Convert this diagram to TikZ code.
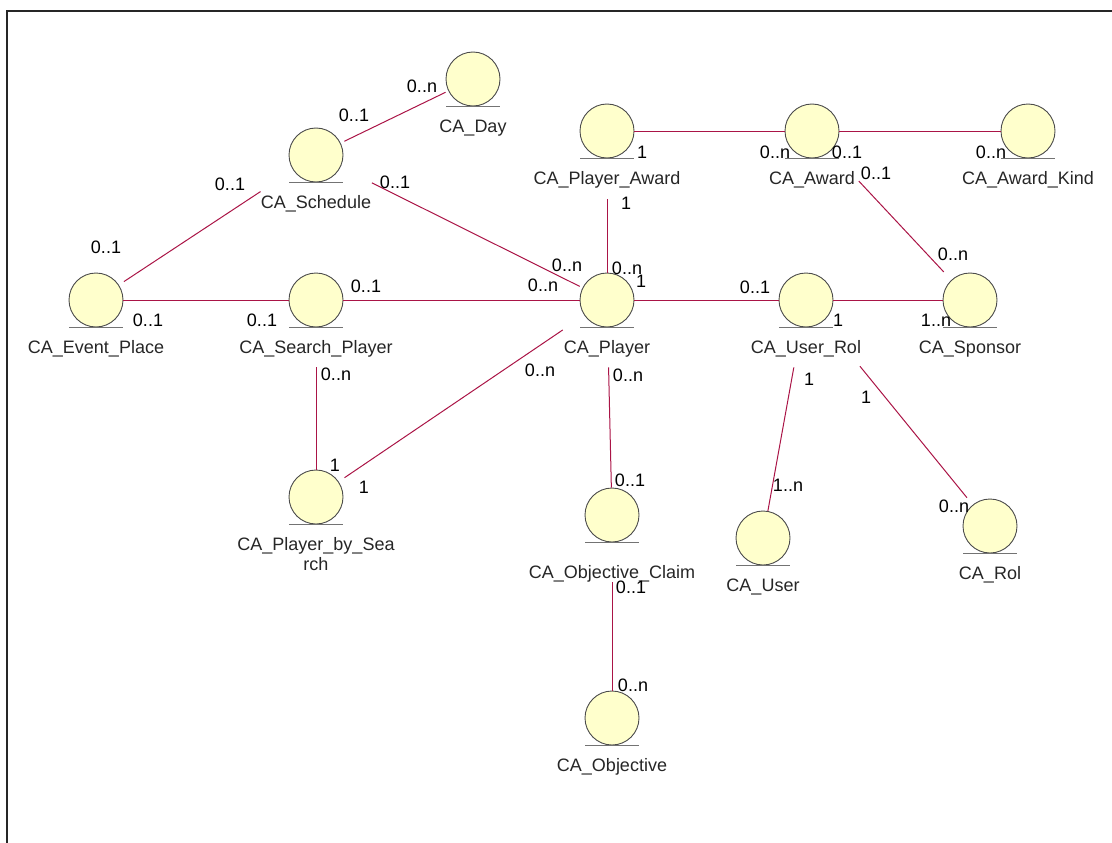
\documentclass[tikz,border=0pt]{standalone}
\usepackage{fontspec}
\setmainfont{Liberation Sans}
\usepackage{tikz}
\usetikzlibrary{positioning}
\usepackage{xcolor}
\definecolor{entityfill}{RGB}{255,255,204}
\definecolor{assoccolor}{RGB}{170,20,70}
\tikzstyle{iconbase} = [draw=black!55, line width=1.2pt]
\tikzstyle{entity} = [circle, minimum size=54pt, inner sep=0pt, draw=black!70, line width=0.9pt, fill=entityfill, append after command={([xshift=-27pt]\tikzlastnode.south) edge[iconbase] ([xshift=27pt]\tikzlastnode.south)}]
\tikzstyle{caption} = [inner sep=0pt, align=center, text=black!85, font=\fontsize{18}{20}\selectfont]
\tikzstyle{mult} = [inner sep=0pt, font=\fontsize{18}{20}\selectfont]
\tikzstyle{assoc} = [draw=assoccolor, line width=1pt]

\begin{document}
\begin{tikzpicture}[x=1pt, y=-1pt, node distance=13pt]
    \useasboundingbox (0,0) rectangle (1112,843);
    \draw [line width=2pt, black!85] (7,843) -- (7,11) -- (1112,11);

    % Classes
    \node (day) [entity] at (473,79) {};
    \node (sched) [entity] at (316,155) {};
    \node (event) [entity] at (96,300) {};
    \node (search) [entity] at (316,300) {};
    \node (paward) [entity] at (607,131) {};
    \node (award) [entity] at (812,131) {};
    \node (kind) [entity] at (1028,131) {};
    \node (player) [entity] at (607,300) {};
    \node (userrol) [entity] at (806,300) {};
    \node (sponsor) [entity] at (970,300) {};
    \node (pbs) [entity] at (316,497) {};
    \node (claim) [entity] at (612,515) {};
    \node (objective) [entity] at (612,718) {};
    \node (user) [entity] at (763,538) {};
    \node (rol) [entity] at (990,526) {};

    % Names
    \node (dayname) [caption, below=of day] {CA\_Day};
    \node (schedname) [caption, below=of sched] {CA\_Schedule};
    \node (eventname) [caption, below=of event] {CA\_Event\_Place};
    \node (searchname) [caption, below=of search] {CA\_Search\_Player};
    \node (pawardname) [caption, below=of paward] {CA\_Player\_Award};
    \node (awardname) [caption, below=of award] {CA\_Award};
    \node (kindname) [caption, below=of kind] {CA\_Award\_Kind};
    \node (playername) [caption, below=of player] {CA\_Player};
    \node (userrolname) [caption, below=of userrol] {CA\_User\_Rol};
    \node (sponsorname) [caption, below=of sponsor] {CA\_Sponsor};
    \node (pbsname) [caption, below=of pbs] {CA\_Player\_by\_Sea\\rch};
    \node (claimname) [caption, below=23pt of claim] {CA\_Objective\_Claim};
    \node (objectivename) [caption, below=of objective] {CA\_Objective};
    \node (username) [caption, below=of user] {CA\_User};
    \node (rolname) [caption, below=of rol] {CA\_Rol};

    % Associations
    \draw [assoc, shorten <=4pt, shorten >=3pt] (sched) -- (day);
    \draw [assoc, shorten <=6pt, shorten >=39pt] (event) -- (sched);
    \draw [assoc, shorten <=35pt, shorten >=3pt] (sched) -- (player);
    \draw [assoc] (event) -- (search);
    \draw [assoc] (search) -- (player);
    \draw [assoc, shorten <=41pt] (paward) -- (player);
    \draw [assoc] (paward) -- (award);
    \draw [assoc] (award) -- (kind);
    \draw [assoc, shorten <=41pt, shorten >=11pt] (award) -- (sponsor);
    \draw [assoc] (player) -- (userrol);
    \draw [assoc] (userrol) -- (sponsor);
    \draw [assoc, shorten <=26pt, shorten >=7pt] (player) -- (pbs);
    \draw [assoc, shorten <=40pt] (search) -- (pbs);
    \draw [assoc, shorten <=40pt] (player) -- (claim);
    \draw [assoc, shorten <=40pt] (claim) -- (objective);
    \draw [assoc, shorten <=41pt] (userrol) -- (user);
    \draw [assoc, shorten <=58pt, shorten >=9pt] (userrol) -- (rol);

    % Multiplicities
    \node (m1) [mult] at (354,115) {0..1};
    \node (m2) [mult] at (422,86) {0..n};
    \node (m3) [mult] at (230,184) {0..1};
    \node (m4) [mult] at (106,247) {0..1};
    \node (m5) [mult] at (395,182) {0..1};
    \node (m6) [mult] at (567,265) {0..n};
    \node (m7) [mult] at (148,320) {0..1};
    \node (m8) [mult] at (262,320) {0..1};
    \node (m9) [mult] at (366,286) {0..1};
    \node (m10) [mult] at (543,285) {0..n};
    \node (m11) [mult] at (626,203) {1};
    \node (m12) [mult] at (627,268) {0..n};
    \node (m13) [mult] at (642,152) {1};
    \node (m14) [mult] at (775,152) {0..n};
    \node (m15) [mult] at (847,152) {0..1};
    \node (m16) [mult] at (991,152) {0..n};
    \node (m17) [mult] at (876,173) {0..1};
    \node (m18) [mult] at (953,254) {0..n};
    \node (m19) [mult] at (641,281) {1};
    \node (m20) [mult] at (755,287) {0..1};
    \node (m21) [mult] at (838,320) {1};
    \node (m22) [mult] at (936,320) {1..n};
    \node (m23) [mult] at (540,370) {0..n};
    \node (m24) [mult] at (364,487) {1};
    \node (m25) [mult] at (336,374) {0..n};
    \node (m26) [mult] at (335,465) {1};
    \node (m27) [mult] at (628,375) {0..n};
    \node (m28) [mult] at (630,480) {0..1};
    \node (m29) [mult] at (631,587) {0..1};
    \node (m30) [mult] at (633,685) {0..n};
    \node (m31) [mult] at (809,379) {1};
    \node (m32) [mult] at (788,485) {1..n};
    \node (m33) [mult] at (866,397) {1};
    \node (m34) [mult] at (954,506) {0..n};

\end{tikzpicture}
\end{document}
